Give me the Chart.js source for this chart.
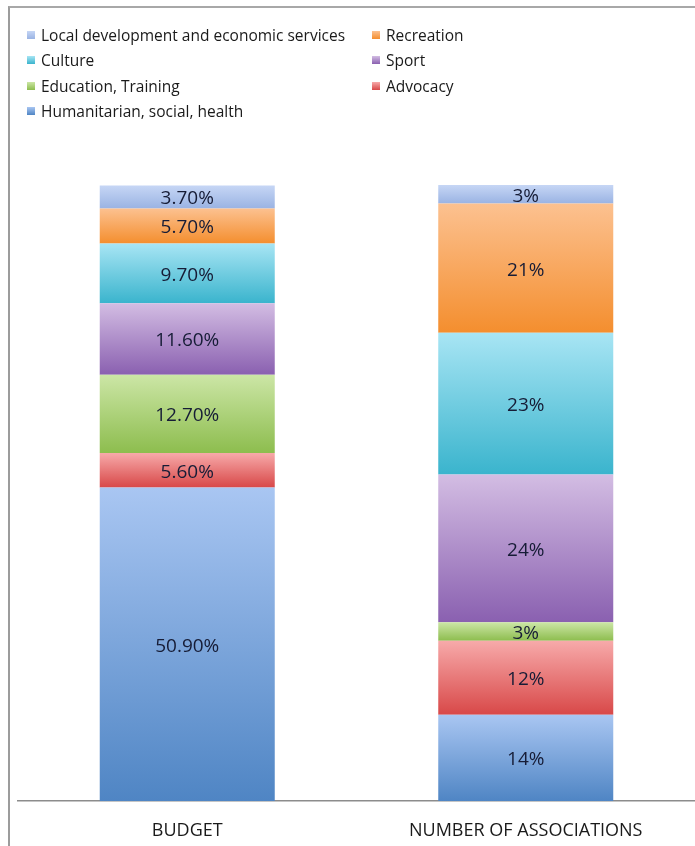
<!DOCTYPE html>
<html>
<head>
<meta charset="utf-8">
<script src="https://cdn.jsdelivr.net/npm/chart.js@4.4.0/dist/chart.umd.min.js"></script>
<style>
    body { margin: 0; background: #fff; }
    #wrap { position: relative; width: 695px; height: 846px; overflow: hidden; }
    #frame { position: absolute; left: 8px; top: 6px; right: -10px; bottom: -10px;
        border-left: 2px solid #9c9c9c; border-top: 2px solid #a8a8a8; }
    #myChart { position: absolute; left: 0; top: 0; }
    #legend { position: absolute; left: 27px; top: 22px; font-family: "Open Sans", sans-serif;
        font-size: 15.5px; color: #1a1a1a; display: grid; grid-template-columns: 345px auto;
        grid-auto-rows: 25.5px; }
    #legend .item { display: flex; align-items: center; white-space: nowrap; }
    #legend .box { width: 8px; height: 8px; margin-right: 6px; }
</style>
</head>
<body>
<div id="wrap">
    <div id="frame"></div>
    <canvas id="myChart" width="695" height="846"></canvas>
    <div id="legend"></div>
</div>
<script>
const categories = ["BUDGET", "NUMBER OF ASSOCIATIONS"];

// stacked from bottom to top
const humanitarian = [50.9, 14];
const advocacy = [5.6, 12];
const education = [12.7, 3];
const sport = [11.6, 24];
const culture = [9.7, 23];
const recreation = [5.7, 21];
const localDev = [3.7, 3];

const series = [
    { label: "Humanitarian, social, health", data: humanitarian, top: "#a9c6f2", bottom: "#4f85c4" },
    { label: "Advocacy", data: advocacy, top: "#f7aaaa", bottom: "#d84848" },
    { label: "Education, Training", data: education, top: "#cce6a6", bottom: "#8dbd4e" },
    { label: "Sport", data: sport, top: "#d3bde3", bottom: "#8a60b0" },
    { label: "Culture", data: culture, top: "#a8e5f4", bottom: "#3ab4cd" },
    { label: "Recreation", data: recreation, top: "#fcc190", bottom: "#f48e2e" },
    { label: "Local development and economic services", data: localDev, top: "#c6d6f5", bottom: "#9ab3e3" }
];

// ordre de la légende (2 colonnes)
const legendOrder = [
    "Local development and economic services", "Recreation",
    "Culture", "Sport",
    "Education, Training", "Advocacy",
    "Humanitarian, social, health"
];

function segmentGradient(context, s) {
    const chart = context.chart;
    const y = chart.scales.y;
    if (!chart.chartArea || !y || context.dataIndex === undefined) return s.bottom;
    let start = 0;
    for (let i = 0; i < context.datasetIndex; i++) {
        start += series[i].data[context.dataIndex];
    }
    const end = start + s.data[context.dataIndex];
    const y0 = y.getPixelForValue(end);
    const y1 = y.getPixelForValue(start);
    if (!isFinite(y0) || !isFinite(y1)) return s.bottom;
    const g = chart.ctx.createLinearGradient(0, y0, 0, y1);
    g.addColorStop(0, s.top);
    g.addColorStop(1, s.bottom);
    return g;
}

const valueLabels = {
    id: "valueLabels",
    afterDatasetsDraw(chart) {
        const ctx = chart.ctx;
        ctx.save();
        ctx.font = "19px 'Open Sans', sans-serif";
        ctx.fillStyle = "#161c36";
        ctx.textAlign = "center";
        ctx.textBaseline = "middle";
        chart.data.datasets.forEach((ds, di) => {
            chart.getDatasetMeta(di).data.forEach((bar, i) => {
                const v = ds.data[i];
                const txt = i === 0 ? v.toFixed(2) + "%" : v + "%";
                ctx.fillText(txt, bar.x, (bar.y + bar.base) / 2 + 2);
            });
        });
        ctx.restore();
    }
};

const ctx = document.getElementById("myChart");

const chart = new Chart(ctx, {
    type: "bar",
    data: {
        labels: categories,
        datasets: series.map(s => ({
            label: s.label,
            data: s.data,
            backgroundColor: c => segmentGradient(c, s),
            borderWidth: 0,
            barPercentage: 0.517,
            categoryPercentage: 1
        }))
    },
    options: {
        responsive: false,
        animation: false,
        layout: { padding: { left: 18, right: 0, top: 185, bottom: 0 } },
        plugins: {
            legend: { display: false },
            tooltip: { enabled: false }
        },
        scales: {
            x: {
                stacked: true,
                afterFit: scale => { scale.height = 45; },
                grid: { display: false, drawTicks: false },
                border: { display: true, color: "#8c8c8c", width: 1.5 },
                ticks: {
                    padding: 19,
                    color: "#1a1a1a",
                    font: { family: "'Open Sans', sans-serif", size: 18 }
                }
            },
            y: {
                stacked: true,
                display: false,
                min: 0,
                max: 100
            }
        }
    },
    plugins: [valueLabels]
});

// légende HTML à partir des datasets
const legendEl = document.getElementById("legend");
legendOrder.forEach(name => {
    const s = series.find(x => x.label === name);
    const item = document.createElement("div");
    item.className = "item";
    item.innerHTML = `<span class="box" style="background: linear-gradient(${s.top}, ${s.bottom})"></span>${s.label}`;
    legendEl.appendChild(item);
});
</script>
</body>
</html>
